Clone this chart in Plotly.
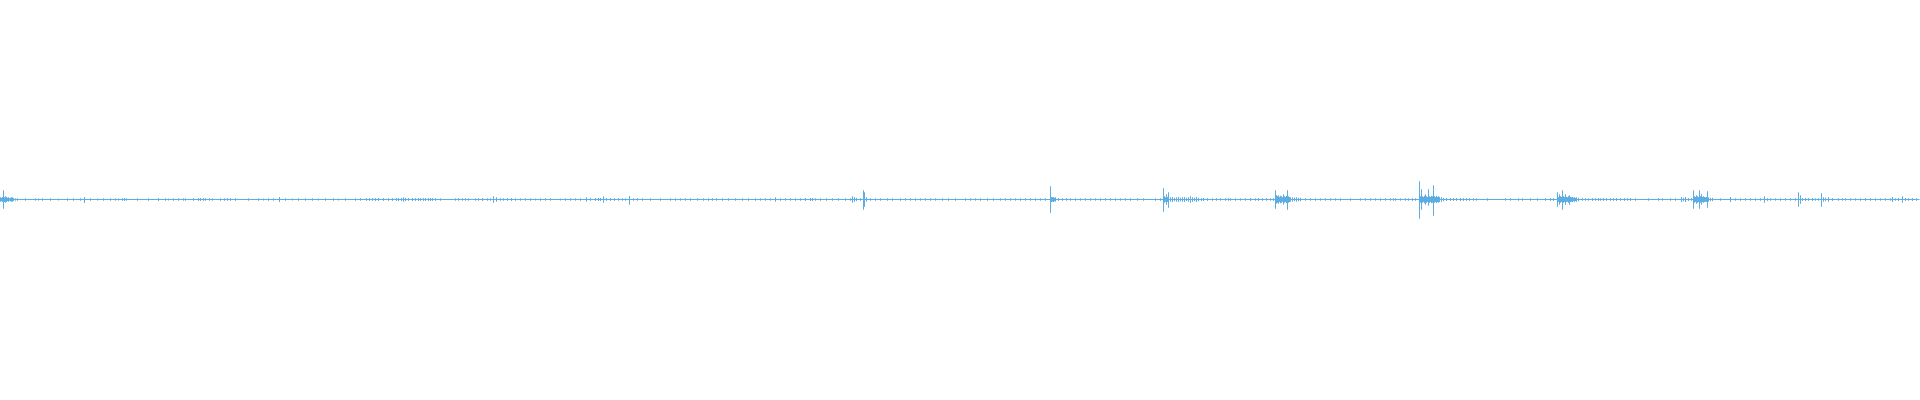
import plotly.graph_objects as go

# Waveform envelope per display frame (1920 frames), amplitude normalised to full scale 1.0
N_FRAMES = 1920

# Prominent transients / bursts: frame, positive peak, negative peak
event_frames = [0, 1, 2, 3, 4, 5, 6, 7, 8, 9, 10, 11, 12, 13, 84, 158, 200, 279,
                493, 496, 586, 603, 629, 775, 852, 854, 856, 863, 864, 866,
                1050, 1051, 1052, 1053, 1054, 1055,
                1163, 1164, 1165, 1166, 1167, 1168, 1170, 1172, 1174, 1176, 1178, 1180,
                1182, 1184, 1186, 1188, 1190, 1192, 1194, 1196, 1198,
                1275, 1276, 1277, 1278, 1279, 1280, 1281, 1282, 1283, 1284, 1285, 1286,
                1287, 1288, 1289, 1290, 1292, 1294, 1296, 1298, 1300,
                1419, 1420, 1421, 1422, 1423, 1424, 1425, 1426, 1427, 1428, 1429, 1430,
                1431, 1432, 1433, 1434, 1435, 1436, 1437, 1438, 1439,
                1557, 1558, 1559, 1560, 1561, 1562, 1563, 1564, 1565, 1566, 1567, 1568,
                1569, 1570, 1571, 1572, 1573, 1574, 1575, 1576, 1578,
                1693, 1694, 1695, 1696, 1697, 1698, 1699, 1700, 1701, 1702, 1703, 1704,
                1705, 1706, 1707, 1708, 1710, 1712,
                1730, 1764, 1798, 1800, 1821, 1823, 1825, 1828, 1892, 1902]
event_up = [0.010, 0.008, 0.012, 0.045, 0.010, 0.015, 0.012, 0.008, 0.010, 0.006, 0.008, 0.010, 0.010, 0.006,
            0.0125, 0.0075, 0.0075, 0.0125,
            0.015, 0.010, 0.010, 0.015, 0.0175, 0.010, 0.015, 0.010, 0.008, 0.045, 0.035, 0.010,
            0.065, 0.0125, 0.010, 0.0125, 0.008, 0.010,
            0.055, 0.015, 0.010, 0.025, 0.012, 0.035, 0.010, 0.012, 0.008, 0.010, 0.012, 0.008,
            0.010, 0.012, 0.008, 0.010, 0.015, 0.010, 0.008, 0.012, 0.008,
            0.045, 0.020, 0.015, 0.020, 0.012, 0.018, 0.015, 0.010, 0.025, 0.015, 0.012, 0.018,
            0.045, 0.015, 0.012, 0.010, 0.010, 0.008, 0.010, 0.008, 0.008,
            0.090, 0.015, 0.050, 0.015, 0.012, 0.018, 0.025, 0.015, 0.012, 0.050, 0.015, 0.012,
            0.018, 0.015, 0.070, 0.015, 0.012, 0.018, 0.012, 0.015, 0.012,
            0.035, 0.012, 0.025, 0.015, 0.012, 0.045, 0.015, 0.012, 0.025, 0.012, 0.010, 0.015,
            0.020, 0.012, 0.010, 0.012, 0.008, 0.010, 0.008, 0.010, 0.008,
            0.045, 0.015, 0.012, 0.020, 0.015, 0.012, 0.045, 0.015, 0.025, 0.012, 0.015, 0.012,
            0.010, 0.012, 0.040, 0.010, 0.008, 0.008,
            0.0125, 0.015, 0.035, 0.020, 0.030, 0.010, 0.008, 0.010, 0.0125, 0.015]
event_down = [0.010, 0.008, 0.012, 0.045, 0.010, 0.015, 0.012, 0.008, 0.010, 0.006, 0.008, 0.010, 0.010, 0.006,
              0.0175, 0.0075, 0.0075, 0.0125,
              0.015, 0.010, 0.010, 0.015, 0.025, 0.010, 0.015, 0.010, 0.008, 0.050, 0.035, 0.010,
              0.065, 0.0125, 0.010, 0.0125, 0.008, 0.010,
              0.060, 0.015, 0.010, 0.025, 0.012, 0.040, 0.010, 0.012, 0.008, 0.010, 0.012, 0.008,
              0.010, 0.012, 0.008, 0.010, 0.015, 0.010, 0.008, 0.012, 0.008,
              0.045, 0.020, 0.015, 0.020, 0.012, 0.018, 0.015, 0.010, 0.025, 0.015, 0.012, 0.018,
              0.050, 0.015, 0.012, 0.010, 0.010, 0.008, 0.010, 0.008, 0.008,
              0.095, 0.015, 0.050, 0.015, 0.012, 0.018, 0.025, 0.015, 0.012, 0.030, 0.015, 0.012,
              0.018, 0.015, 0.080, 0.015, 0.012, 0.018, 0.012, 0.015, 0.012,
              0.035, 0.012, 0.025, 0.015, 0.012, 0.050, 0.015, 0.012, 0.025, 0.012, 0.010, 0.015,
              0.025, 0.012, 0.010, 0.012, 0.008, 0.010, 0.008, 0.010, 0.008,
              0.045, 0.015, 0.012, 0.020, 0.015, 0.012, 0.045, 0.015, 0.025, 0.012, 0.015, 0.012,
              0.010, 0.012, 0.040, 0.010, 0.008, 0.008,
              0.0125, 0.015, 0.035, 0.020, 0.035, 0.010, 0.008, 0.010, 0.0125, 0.015]

# Low-level background ticks: frame and symmetric amplitude
noise_frames = [15, 17, 25, 35, 38, 42, 50, 58, 67, 73, 80, 90, 97, 103, 110, 115, 118, 122, 124, 126,
                137, 148, 165, 168, 173, 178, 183, 185, 193, 198, 203, 205, 209, 212, 220, 224, 227, 230, 235,
                248, 258, 263, 268, 273, 285, 292, 298, 305, 312, 318, 325, 333, 338, 345, 355, 360,
                366, 369, 372, 375, 378, 383, 388, 392, 396, 398, 401, 403, 405, 408, 412, 415, 418, 420,
                423, 425, 428, 430, 432, 435, 440, 455, 458, 462, 465, 468, 475, 478, 482,
                487, 490, 500, 503, 507, 511, 515, 520, 525, 530, 535, 540, 545, 550, 560, 565, 570, 575,
                580, 590, 595, 598, 600, 606, 610, 614, 618, 622, 625, 633, 637, 642, 650, 660, 670, 675,
                680, 685, 690, 697, 703, 708, 712, 716,
                722, 728, 735, 742, 748, 755, 760, 765, 770, 780, 785, 790, 795, 800, 805, 810, 812, 815,
                820, 826, 832, 838, 845, 850, 860, 870, 875, 880, 887, 892, 900, 905, 910, 915, 920, 925,
                930, 935, 942, 948, 955,
                965, 970, 975, 980, 987, 993, 1000, 1005, 1010, 1015, 1020, 1025, 1030, 1035, 1040, 1045,
                1058, 1062, 1066, 1070, 1075, 1080, 1085, 1090, 1095, 1100, 1105, 1110, 1115, 1120, 1125,
                1130, 1137, 1143, 1155, 1160,
                1201, 1203, 1207, 1212, 1216, 1220, 1225, 1228, 1230, 1235, 1240, 1245, 1250, 1255, 1258,
                1262, 1266, 1270, 1273, 1305, 1310, 1315, 1320, 1325, 1330, 1335, 1340, 1350, 1360, 1365,
                1370, 1375, 1380, 1385, 1390, 1393, 1395, 1400, 1405, 1408, 1412, 1415,
                1441, 1443, 1446, 1450, 1453, 1456, 1460, 1463, 1466, 1469, 1473, 1476, 1487, 1505, 1510,
                1518, 1522, 1530, 1537, 1545, 1550, 1553, 1582, 1585, 1588, 1592, 1595, 1598, 1600, 1603,
                1606, 1610, 1613, 1616, 1620, 1624, 1627, 1630, 1635, 1648, 1658, 1662, 1670, 1675,
                1681, 1683, 1685, 1688, 1691, 1720, 1735, 1740, 1745, 1750, 1755, 1760, 1767, 1770, 1775,
                1780, 1785, 1790, 1795, 1802, 1805, 1808, 1812, 1815, 1818, 1832, 1838, 1842, 1845, 1850,
                1855, 1860, 1865, 1870, 1875, 1880, 1885, 1890, 1895, 1898, 1905, 1908, 1912, 1916]
noise_amp = [0.005, 0.005, 0.005, 0.005, 0.004, 0.005, 0.005, 0.004, 0.005, 0.005, 0.005, 0.005, 0.004, 0.005,
             0.005, 0.005, 0.004, 0.005, 0.006, 0.005,
             0.005, 0.005, 0.005, 0.004, 0.005, 0.005, 0.005, 0.005, 0.005, 0.006, 0.006, 0.005, 0.005,
             0.005, 0.005, 0.005, 0.005, 0.005, 0.006,
             0.005, 0.005, 0.004, 0.005, 0.005, 0.005, 0.004, 0.005, 0.005, 0.005, 0.004, 0.005, 0.005,
             0.004, 0.005, 0.005, 0.005,
             0.006, 0.006, 0.006, 0.0075, 0.007, 0.006, 0.006, 0.006, 0.006, 0.007, 0.0075, 0.010, 0.007,
             0.006, 0.007, 0.006, 0.007, 0.006,
             0.006, 0.007, 0.006, 0.007, 0.006, 0.006, 0.005, 0.005, 0.005, 0.005, 0.005, 0.005, 0.005,
             0.005, 0.006,
             0.005, 0.005, 0.005, 0.005, 0.005, 0.006, 0.005, 0.005, 0.005, 0.005, 0.004, 0.005, 0.005,
             0.005, 0.004, 0.005, 0.005, 0.005,
             0.005, 0.0075, 0.0075, 0.0075, 0.0075, 0.006, 0.006, 0.006, 0.005, 0.005, 0.005, 0.005,
             0.005, 0.005, 0.005, 0.005, 0.005, 0.005,
             0.005, 0.005, 0.005, 0.005, 0.005, 0.005, 0.005, 0.005,
             0.005, 0.005, 0.005, 0.005, 0.005, 0.005, 0.005, 0.005, 0.005, 0.005, 0.005, 0.005, 0.005,
             0.005, 0.007, 0.0075, 0.007, 0.005,
             0.005, 0.005, 0.005, 0.005, 0.005, 0.005, 0.005, 0.005, 0.005, 0.005, 0.005, 0.005, 0.005,
             0.005, 0.005, 0.005, 0.005, 0.005,
             0.005, 0.005, 0.005, 0.005, 0.005,
             0.005, 0.005, 0.005, 0.005, 0.005, 0.005, 0.005, 0.005, 0.005, 0.005, 0.005, 0.005, 0.005,
             0.005, 0.005, 0.005,
             0.006, 0.005, 0.005, 0.005, 0.005, 0.005, 0.005, 0.005, 0.005, 0.005, 0.005, 0.005, 0.005,
             0.005, 0.005,
             0.005, 0.005, 0.005, 0.005, 0.005,
             0.006, 0.007, 0.006, 0.005, 0.005, 0.005, 0.005, 0.005, 0.005, 0.005, 0.005, 0.005, 0.006,
             0.005, 0.006,
             0.005, 0.005, 0.005, 0.005, 0.005, 0.005, 0.005, 0.005, 0.005, 0.005, 0.005, 0.005, 0.005,
             0.005, 0.005,
             0.005, 0.005, 0.005, 0.005, 0.005, 0.005, 0.005, 0.005, 0.005, 0.005, 0.005, 0.005,
             0.010, 0.008, 0.007, 0.006, 0.007, 0.006, 0.007, 0.006, 0.005, 0.006, 0.005, 0.005, 0.005,
             0.005, 0.005,
             0.005, 0.005, 0.005, 0.005, 0.005, 0.006, 0.006, 0.005, 0.005, 0.005, 0.006, 0.005, 0.006,
             0.005, 0.006,
             0.005, 0.006, 0.005, 0.006, 0.005, 0.006, 0.005, 0.006, 0.005, 0.005, 0.005, 0.005, 0.005,
             0.005,
             0.012, 0.008, 0.012, 0.007, 0.006, 0.005, 0.005, 0.005, 0.005, 0.005, 0.005, 0.005, 0.006,
             0.005, 0.005,
             0.005, 0.005, 0.005, 0.005, 0.006, 0.006, 0.006, 0.006, 0.005, 0.005, 0.006, 0.005, 0.005,
             0.005, 0.005,
             0.005, 0.005, 0.006, 0.005, 0.005, 0.005, 0.005, 0.005, 0.005, 0.006, 0.006, 0.005, 0.006,
             0.005]

WAVE_COLOR = "rgb(93,173,226)"

# Merge envelopes by frame
env = {}
for f, a in zip(noise_frames, noise_amp):
    env[f] = (a, a)
for f, u, d in zip(event_frames, event_up, event_down):
    env[f] = (u, d)

xs, ys = [0], [0.0]
for f in sorted(env):
    u, d = env[f]
    xs += [f, f, f, f]
    ys += [0.0, u, -d, 0.0]
xs.append(N_FRAMES - 1)
ys.append(0.0)

fig = go.Figure(go.Scatter(x=xs, y=ys, mode="lines",
                           line=dict(color=WAVE_COLOR, width=1),
                           hoverinfo="skip", showlegend=False))
fig.update_layout(
    width=1920, height=400,
    margin=dict(l=0, r=0, t=0, b=0),
    paper_bgcolor="white", plot_bgcolor="white",
    xaxis=dict(visible=False, range=[-0.5, N_FRAMES - 0.5], fixedrange=True),
    yaxis=dict(visible=False, range=[-1.0025, 0.9975], fixedrange=True),
)
fig.write_html("out.html", config={"displayModeBar": False},
               post_script="document.body.style.margin='0';document.body.style.padding='0';"
                           "document.body.style.overflow='hidden';")
